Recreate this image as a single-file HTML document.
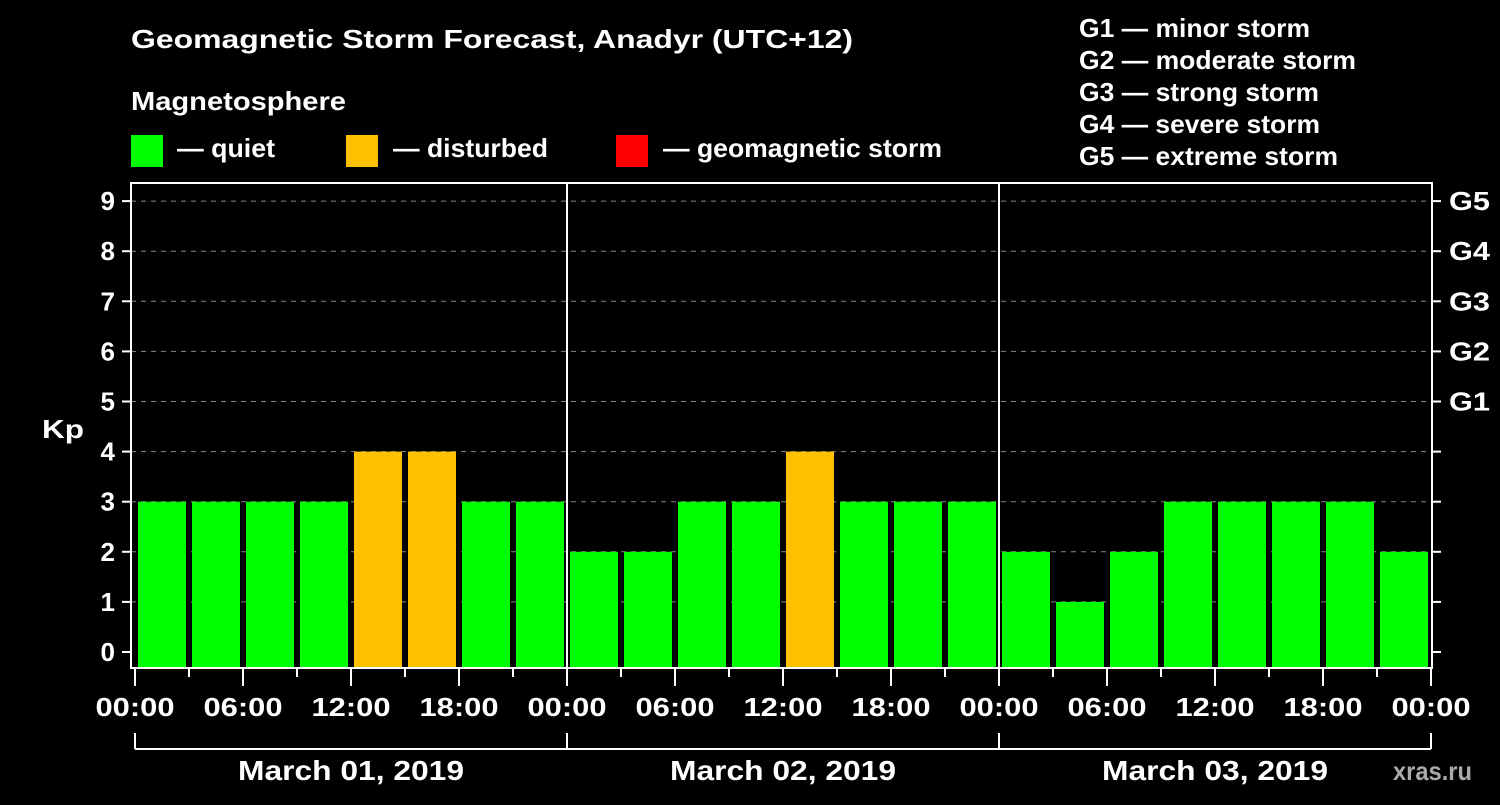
<!DOCTYPE html>
<html><head><meta charset="utf-8"><style>
body{margin:0;background:#000;}
svg text{font-family:"Liberation Sans",sans-serif;font-weight:bold;fill:#fff;}
</style></head><body>
<svg id="c" width="1500" height="800" xmlns="http://www.w3.org/2000/svg">
<rect width="1500" height="800" fill="#000"/>
<text x="131" y="48" font-size="26" textLength="722" lengthAdjust="spacingAndGlyphs">Geomagnetic Storm Forecast, Anadyr (UTC+12)</text>
<text x="131" y="110" font-size="26" textLength="215" lengthAdjust="spacingAndGlyphs">Magnetosphere</text>
<rect x="131" y="135" width="32" height="32" fill="#00ff00"/>
<text x="177" y="157" font-size="26" textLength="98" lengthAdjust="spacingAndGlyphs">— quiet</text>
<rect x="346" y="135" width="32" height="32" fill="#ffc000"/>
<text x="393" y="157" font-size="26" textLength="155" lengthAdjust="spacingAndGlyphs">— disturbed</text>
<rect x="616" y="135" width="32" height="32" fill="#ff0000"/>
<text x="663" y="157" font-size="26" textLength="279" lengthAdjust="spacingAndGlyphs">— geomagnetic storm</text>
<g font-size="26">
<text x="1079" y="37" textLength="231" lengthAdjust="spacingAndGlyphs">G1 — minor storm</text>
<text x="1079" y="69" textLength="277" lengthAdjust="spacingAndGlyphs">G2 — moderate storm</text>
<text x="1079" y="101" textLength="240" lengthAdjust="spacingAndGlyphs">G3 — strong storm</text>
<text x="1079" y="133" textLength="241" lengthAdjust="spacingAndGlyphs">G4 — severe storm</text>
<text x="1079" y="165" textLength="259" lengthAdjust="spacingAndGlyphs">G5 — extreme storm</text>
</g>
<text x="42" y="438" font-size="26" textLength="42" lengthAdjust="spacingAndGlyphs">Kp</text>
<text x="1393" y="780" font-size="26" style="fill:#aaa" textLength="79" lengthAdjust="spacingAndGlyphs">xras.ru</text>
<g id="plot"></g>
</svg>
<script>
const kpValues = [3,3,3,3,4,4,3,3, 2,2,3,3,4,3,3,3, 2,1,2,3,3,3,3,2];
const dayLabels = ["March 01, 2019","March 02, 2019","March 03, 2019"];
const hourLabels = ["00:00","06:00","12:00","18:00"];
const gLabels = ["G1","G2","G3","G4","G5"];
const yTicks = [0,1,2,3,4,5,6,7,8,9];
const NS="http://www.w3.org/2000/svg";
const plotG=document.getElementById('plot');
const x0=135, slot=54, pLeft=131, pRight=1432, pTop=183, pBottom=668;
const yScale=v=>652-v*50.1;
const xs=i=>x0+i*slot;
function mk(t,a){const e=document.createElementNS(NS,t);for(const k in a)e.setAttribute(k,a[k]);plotG.appendChild(e);return e;}
yTicks.forEach(v=>{
  if(v>0){const l=mk('line',{x1:pLeft,x2:pRight,y1:yScale(v),y2:yScale(v),stroke:'#888','stroke-dasharray':'5,5','stroke-width':1});
  
  }
  mk('line',{x1:122,x2:pLeft,y1:yScale(v),y2:yScale(v),stroke:'#fff','stroke-width':2});
  mk('line',{x1:pRight,x2:1441,y1:yScale(v),y2:yScale(v),stroke:'#fff','stroke-width':2});
  const t=mk('text',{x:115,y:yScale(v)+9,'font-size':26,'text-anchor':'end'});t.textContent=v;
  
  
});
gLabels.forEach((s,i)=>{const t=mk('text',{x:1449,y:yScale(5+i)+9,'font-size':26,textLength:41,lengthAdjust:'spacingAndGlyphs'});t.textContent=s;
  
  });
kpValues.forEach((v,i)=>{
  const c=v>=5?'#ff0000':(v>=4?'#ffc000':'#00ff00');
  const r=mk('rect',{x:xs(i)+3,y:yScale(v),width:48,height:pBottom-yScale(v),fill:c});
  
  
});
for(let d=1;d<3;d++)mk('line',{x1:xs(d*8),x2:xs(d*8),y1:pTop,y2:pBottom,stroke:'#fff','stroke-width':2});
const frame=mk('rect',{x:pLeft,y:pTop,width:pRight-pLeft,height:pBottom-pTop,fill:'none',stroke:'#fff','stroke-width':2});


for(let i=0;i<=24;i++){
  const major=i%2==0;
  mk('line',{x1:xs(i),x2:xs(i),y1:pBottom,y2:major?686:677,stroke:'#fff','stroke-width':2});
  if(major){const t=mk('text',{x:xs(i),y:716,'font-size':26,'text-anchor':'middle',textLength:79,lengthAdjust:'spacingAndGlyphs'});t.textContent=hourLabels[(i/2)%4];
  
  }
}
mk('line',{x1:xs(0),x2:xs(24),y1:749,y2:749,stroke:'#fff','stroke-width':2});
for(let d=0;d<=3;d++)mk('line',{x1:xs(d*8),x2:xs(d*8),y1:733,y2:749,stroke:'#fff','stroke-width':2});
dayLabels.forEach((s,d)=>{const t=mk('text',{x:xs(d*8+4),y:780,'font-size':28,'text-anchor':'middle',textLength:226,lengthAdjust:'spacingAndGlyphs'});t.textContent=s;
  
  });
</script>
</body></html>
